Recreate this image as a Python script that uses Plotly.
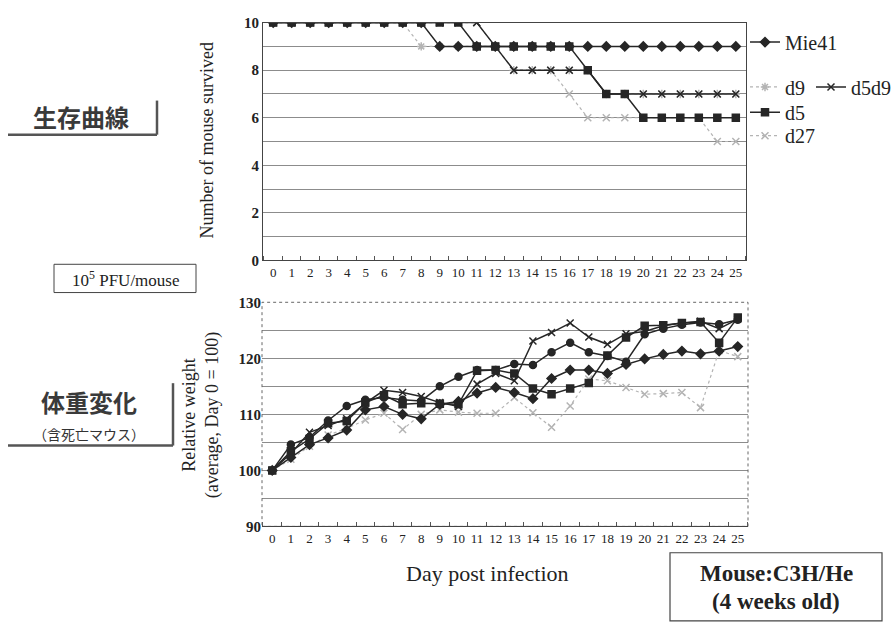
import plotly.graph_objects as go

W, H = 896, 627

days = list(range(26))
day_labels = [str(d) for d in days]

# Survival (number of mice alive)
surv_mie41 = [10]*9 + [9]*17
surv_d9 = [10]*8 + [9]*5 + [8]*5 + [7]*8
surv_d5d9 = [10]*12 + [9] + [8]*5 + [7]*8
surv_d5 = [10]*11 + [9]*6 + [8] + [7]*2 + [6]*6
surv_d27 = [10]*12 + [9] + [8]*3 + [7] + [6]*7 + [5]*2

# Relative weight (average, day 0 = 100)
wt_mie41 = [100, 102.3, 104.6, 105.8, 107.2, 110.8, 111.4, 110.0, 109.2, 111.8, 112.3, 113.8, 114.8,
            113.9, 112.8, 116.4, 117.9, 117.9, 117.3, 118.9, 119.9, 120.7, 121.3, 120.8, 121.3, 122.1]
wt_d5 = [100, 103.4, 105.6, 108.4, 108.8, 112.1, 113.4, 111.8, 112.0, 111.9, 111.8, 117.8, 117.9,
         117.3, 114.6, 113.6, 114.6, 115.6, 120.5, 123.7, 125.8, 125.9, 126.3, 126.5, 122.8, 127.3]
wt_d5d9 = [100, 103.0, 106.8, 108.0, 109.2, 112.0, 114.3, 113.9, 113.2, 112.1, 111.4, 115.4, 117.3,
           116.0, 123.1, 124.6, 126.3, 123.8, 122.5, 124.4, 124.8, 125.8, 126.3, 126.6, 125.3, 127.0]
wt_d9 = [100, 104.6, 105.9, 108.9, 111.5, 112.6, 113.0, 112.6, 112.4, 115.0, 116.7, 117.9, 117.9,
         119.0, 118.8, 121.1, 122.8, 121.1, 120.4, 119.4, 124.3, 125.3, 126.0, 126.4, 126.1, 126.9]
wt_d27 = [100, 102.0, 104.3, 106.3, 107.5, 109.0, 110.2, 107.3, 110.0, 110.8, 110.4, 110.2, 110.2,
          113.0, 110.3, 107.7, 111.5, 116.3, 116.0, 114.8, 113.6, 113.7, 113.9, 111.2, 121.4, 120.3]

surv_major = [0, 2, 4, 6, 8, 10]
surv_minor = [1, 3, 5, 7, 9]
wt_major = [90, 100, 110, 120, 130]
wt_minor = [95, 105, 115, 125]

DARK = "#262626"
LIGHT = "#b4b4b4"
GRID = "#8c8c8c"
SERIF = "Liberation Serif"
CJK = "Noto Sans CJK JP"


def px(x):
    return x / W


def py(y):
    return 1 - y / H


fig = go.Figure()

# ---- survival chart (light series first, dark on top) ----
surv_styles = [
    ("d27", surv_d27, LIGHT, "dot", "x-thin-open", "legend5"),
    ("d9", surv_d9, LIGHT, "dot", "asterisk-open", "legend2"),
    ("d5", surv_d5, DARK, "solid", "square", "legend4"),
    ("d5d9", surv_d5d9, DARK, "solid", "x-thin-open", "legend3"),
    ("Mie41", surv_mie41, DARK, "solid", "diamond", "legend"),
]
for name, vals, col, dash, sym, lg in surv_styles:
    fig.add_trace(go.Scatter(
        x=days, y=vals, name=name, mode="lines+markers",
        line=dict(color=col, width=1.5 if col == DARK else 1.2, dash=dash),
        marker=dict(symbol=sym, size=7, color=col, line=dict(color=col, width=1.5)),
        xaxis="x", yaxis="y", legend=lg, showlegend=True,
    ))

# ---- weight chart ----
wt_styles = [
    ("d27", wt_d27, LIGHT, "dot", "x-thin-open"),
    ("d9", wt_d9, DARK, "solid", "circle"),
    ("d5", wt_d5, DARK, "solid", "square"),
    ("d5d9", wt_d5d9, DARK, "solid", "x-thin-open"),
    ("Mie41", wt_mie41, DARK, "solid", "diamond"),
]
for name, vals, col, dash, sym in wt_styles:
    fig.add_trace(go.Scatter(
        x=days, y=vals, name=name, mode="lines+markers",
        line=dict(color=col, width=1.5 if col == DARK else 1.2, dash=dash),
        marker=dict(symbol=sym, size=7, color=col, line=dict(color=col, width=1.5)),
        xaxis="x2", yaxis="y2", showlegend=False,
    ))

minor_x = dict(tickvals=[d - 0.5 for d in range(27)], ticks="inside", ticklen=4,
               tickcolor="#555", showgrid=False)

xcommon = dict(range=[-0.55, 25.55], tickmode="array", tickvals=days, ticktext=day_labels,
               ticks="", showgrid=False, zeroline=False, showline=True, linecolor="#444",
               linewidth=1, tickfont=dict(family=SERIF, size=13, color="#222"),
               minor=minor_x, fixedrange=True)

ytickfont = dict(family=SERIF, size=15, color="#222", weight="bold")

fig.update_layout(
    width=W, height=H, margin=dict(l=0, r=0, t=0, b=0),
    paper_bgcolor="white", plot_bgcolor="white",
    xaxis=dict(domain=[px(263), px(746)], anchor="y", mirror=True, **xcommon),
    yaxis=dict(domain=[py(259), py(15)], anchor="x", range=[0, 10], tickmode="array",
               tickvals=surv_major, showgrid=True, gridcolor=GRID, gridwidth=1,
               minor=dict(tickvals=surv_minor, showgrid=True, gridcolor=GRID, gridwidth=1, ticks=""),
               zeroline=False, showline=True, linecolor="#444", mirror=True,
               tickfont=ytickfont, ticks="", fixedrange=True),
    xaxis2=dict(domain=[px(262), px(748)], anchor="y2", **xcommon),
    yaxis2=dict(domain=[py(532), py(302)], anchor="x2", range=[90, 130], tickmode="array",
                tickvals=wt_major, showgrid=True, gridcolor=GRID, gridwidth=1,
                minor=dict(tickvals=wt_minor, showgrid=True, gridcolor=GRID, gridwidth=1, ticks=""),
                zeroline=False, showline=False,
                tickfont=ytickfont, ticks="", fixedrange=True),
)

# legends positioned next to line ends
leg_common = dict(bgcolor="rgba(0,0,0,0)", borderwidth=0, font=dict(family=SERIF, size=20, color="#222"),
                  xanchor="left", yanchor="middle", itemwidth=30, tracegroupgap=0)
fig.update_layout(
    legend=dict(x=px(745), y=py(35), **leg_common),
    legend2=dict(x=px(745), y=py(81), **leg_common),
    legend3=dict(x=px(811), y=py(81), **leg_common),
    legend4=dict(x=px(745), y=py(107), **leg_common),
    legend5=dict(x=px(745), y=py(131), **leg_common),
)

shapes = []
# dotted frame around the weight chart
shapes.append(dict(type="rect", xref="x2 domain", yref="y2 domain", x0=0, x1=1, y0=0, y1=1,
                   line=dict(color="#666", width=1, dash="dot")))
shapes.append(dict(type="line", xref="x2 domain", yref="y2 domain", x0=0, x1=1, y0=0, y1=0,
                   line=dict(color="#444", width=1)))
# bracket lines by the Japanese labels
for (hx0, hx1, hy, vy0) in [(8, 157, 130, 95), (8, 173, 449, 385)]:
    shapes.append(dict(type="line", xref="paper", yref="paper", x0=px(hx0), x1=px(hx1),
                       y0=py(hy), y1=py(hy), line=dict(color="#555", width=2.5)))
    shapes.append(dict(type="line", xref="paper", yref="paper", x0=px(hx1), x1=px(hx1),
                       y0=py(vy0), y1=py(hy), line=dict(color="#555", width=2.5)))
# boxes
shapes.append(dict(type="rect", xref="paper", yref="paper", x0=px(54), x1=px(196),
                   y0=py(292), y1=py(263), line=dict(color="#444", width=1)))
shapes.append(dict(type="rect", xref="paper", yref="paper", x0=px(670), x1=px(882),
                   y0=py(629), y1=py(559), line=dict(color="#444", width=1.2)))
fig.update_layout(shapes=shapes)

ann = []


def add_text(text, x, y, size, family=SERIF, angle=0, color="#222", xanchor="center"):
    ann.append(dict(text=text, x=px(x), y=py(y), xref="paper", yref="paper", showarrow=False,
                    font=dict(family=family, size=size, color=color), textangle=angle,
                    xanchor=xanchor, yanchor="middle", align="center"))


add_text("Number of mouse survived", 207, 136, 18, angle=-90)
add_text("Relative weight<br>(average, Day 0 = 100)", 201, 418, 18, angle=-90)
add_text("Day post infection", 488, 580, 22)
add_text("<b>生存曲線</b>", 81, 111, 24, family=CJK, color="#3a3a3a")
add_text("<b>体重変化</b>", 89, 404, 24, family=CJK, color="#3a3a3a")
add_text("（含死亡マウス）", 89, 437, 14, family=CJK, color="#333")
add_text("10<sup>5</sup> PFU/mouse", 126, 278, 17)
add_text("<b>Mouse:C3H/He</b>", 776, 580, 23)
add_text("<b>(4 weeks old)</b>", 776, 609, 23)
fig.update_layout(annotations=ann)

fig.write_html("out.html", config={"displayModeBar": False},
               post_script="document.body.style.margin='0px';")
